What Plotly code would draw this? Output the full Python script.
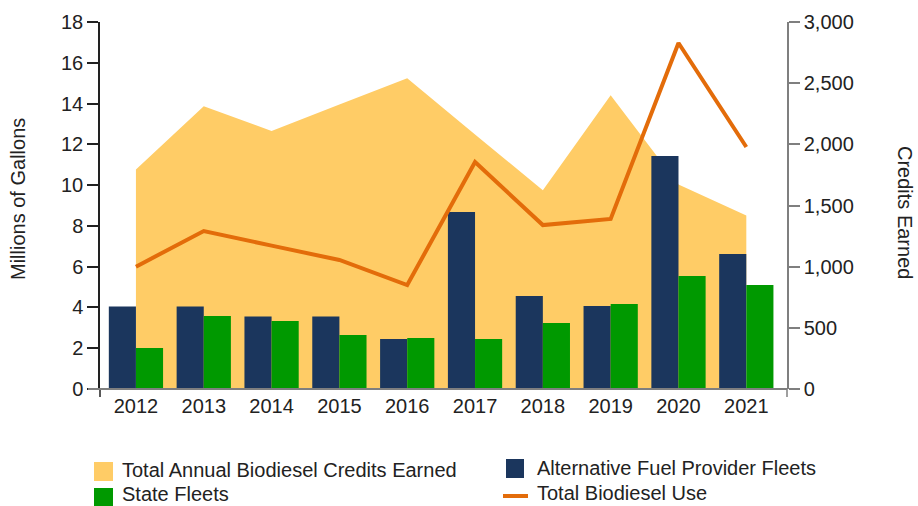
import plotly.graph_objects as go

years = ["2012", "2013", "2014", "2015", "2016", "2017", "2018", "2019", "2020", "2021"]
alt_fuel = [4.05, 4.05, 3.55, 3.55, 2.45, 8.68, 4.56, 4.07, 11.43, 6.62]
state_fleets = [2.01, 3.58, 3.33, 2.65, 2.50, 2.45, 3.24, 4.17, 5.54, 5.10]
total_use = [6.0, 7.75, 7.03, 6.33, 5.1, 11.13, 8.04, 8.34, 16.97, 11.87]
credits = [1795, 2311, 2109, 2325, 2541, 2080, 1625, 2402, 1672, 1418]

left_ticks = [0, 2, 4, 6, 8, 10, 12, 14, 16, 18]
right_ticks = [0, 500, 1000, 1500, 2000, 2500, 3000]
right_tick_text = ["0", "500", "1,000", "1,500", "2,000", "2,500", "3,000"]

names = ["Total Annual Biodiesel Credits Earned", "Alternative Fuel Provider Fleets",
         "State Fleets", "Total Biodiesel Use"]
colors = ["#ffcc66", "#1b365d", "#009900", "#e36c0a"]

FONT = "Liberation Sans, Arial, sans-serif"
TXT = "#222222"

W, H = 918, 506
L, R, T, B = 100, 131, 22, 117
PW, PH = W - L - R, H - T - B


def px(x):
    return (x - L) / PW


def py(y):
    return (H - B - y) / PH


fig = go.Figure()
fig.add_trace(go.Scatter(
    x=years, y=credits, yaxis="y", mode="none", fill="tozeroy",
    fillcolor=colors[0], name=names[0], showlegend=False))
fig.add_trace(go.Bar(
    x=years, y=alt_fuel, yaxis="y2", marker_color=colors[1], marker_line_width=0,
    name=names[1], showlegend=False))
fig.add_trace(go.Bar(
    x=years, y=state_fleets, yaxis="y2", marker_color=colors[2], marker_line_width=0,
    name=names[2], showlegend=False))
fig.add_trace(go.Scatter(
    x=years, y=total_use, yaxis="y2", mode="lines",
    line=dict(color=colors[3], width=4), name=names[3], showlegend=False))

# legend built from shapes + text
shapes = [
    dict(type="rect", xref="paper", yref="paper", x0=px(94), x1=px(113),
         y0=py(481), y1=py(462), fillcolor=colors[0], line_width=0),
    dict(type="rect", xref="paper", yref="paper", x0=px(94), x1=px(113),
         y0=py(506), y1=py(488), fillcolor=colors[2], line_width=0),
    dict(type="rect", xref="paper", yref="paper", x0=px(506), x1=px(524),
         y0=py(478), y1=py(459), fillcolor=colors[1], line_width=0),
    dict(type="line", xref="paper", yref="paper", x0=px(503), x1=px(528),
         y0=py(496), y1=py(496), line=dict(color=colors[3], width=4)),
    # axis extensions below zero
    dict(type="line", xref="paper", yref="paper", x0=0, x1=0,
         y0=py(397), y1=0, line=dict(color=TXT, width=1.5)),
    dict(type="line", xref="paper", yref="paper", x0=1, x1=1,
         y0=py(397), y1=0, line=dict(color="#7f7f7f", width=1.5)),
    dict(type="line", xref="paper", yref="paper", x0=px(88), x1=1,
         y0=0, y1=0, line=dict(color="#7f7f7f", width=2)),
]

legend_text = [
    (names[0], 120, 470),
    (names[2], 120, 494),
    (names[1], 535, 468),
    (names[3], 535, 493),
]
annotations = [
    dict(text=t, xref="paper", yref="paper", x=px(x), y=py(y), xanchor="left",
         yanchor="middle", showarrow=False, font=dict(size=20, color=TXT))
    for t, x, y in legend_text
]
annotations += [
    dict(text="Millions of Gallons", xref="paper", yref="paper",
         x=px(18), y=py(199), xanchor="center", yanchor="middle",
         textangle=-90, showarrow=False, font=dict(size=20, color=TXT)),
    dict(text="Credits Earned", xref="paper", yref="paper",
         x=px(905), y=py(212), xanchor="center", yanchor="middle",
         textangle=90, showarrow=False, font=dict(size=20, color=TXT)),
]

fig.update_layout(
    width=W, height=H,
    margin=dict(l=L, r=R, t=T, b=B, autoexpand=False),
    paper_bgcolor="white", plot_bgcolor="white",
    font=dict(family=FONT, size=20, color=TXT),
    barmode="group", bargap=0.2, bargroupgap=0,
    showlegend=False,
    xaxis=dict(showgrid=False, showline=False, ticks="", tickfont=dict(size=20),
               range=[-0.53, 9.6], ticklabelstandoff=3),
    yaxis=dict(side="right", range=[0, 3000], tickvals=right_ticks,
               ticktext=right_tick_text, showgrid=False, zeroline=False,
               showline=True, linecolor="#7f7f7f", linewidth=1.5,
               ticks="outside", ticklen=11, tickcolor="#7f7f7f", tickwidth=1.5),
    yaxis2=dict(side="left", overlaying="y", range=[0, 18], tickvals=left_ticks,
                showgrid=False, zeroline=False, showline=True, linecolor=TXT,
                linewidth=1.5, ticks="outside", ticklen=11, tickcolor=TXT, tickwidth=1.5),
    shapes=shapes,
    annotations=annotations,
)

fig.write_html("out.html", config={"displayModeBar": False},
               post_script="document.body.style.margin='0';document.body.style.overflow='hidden';")
